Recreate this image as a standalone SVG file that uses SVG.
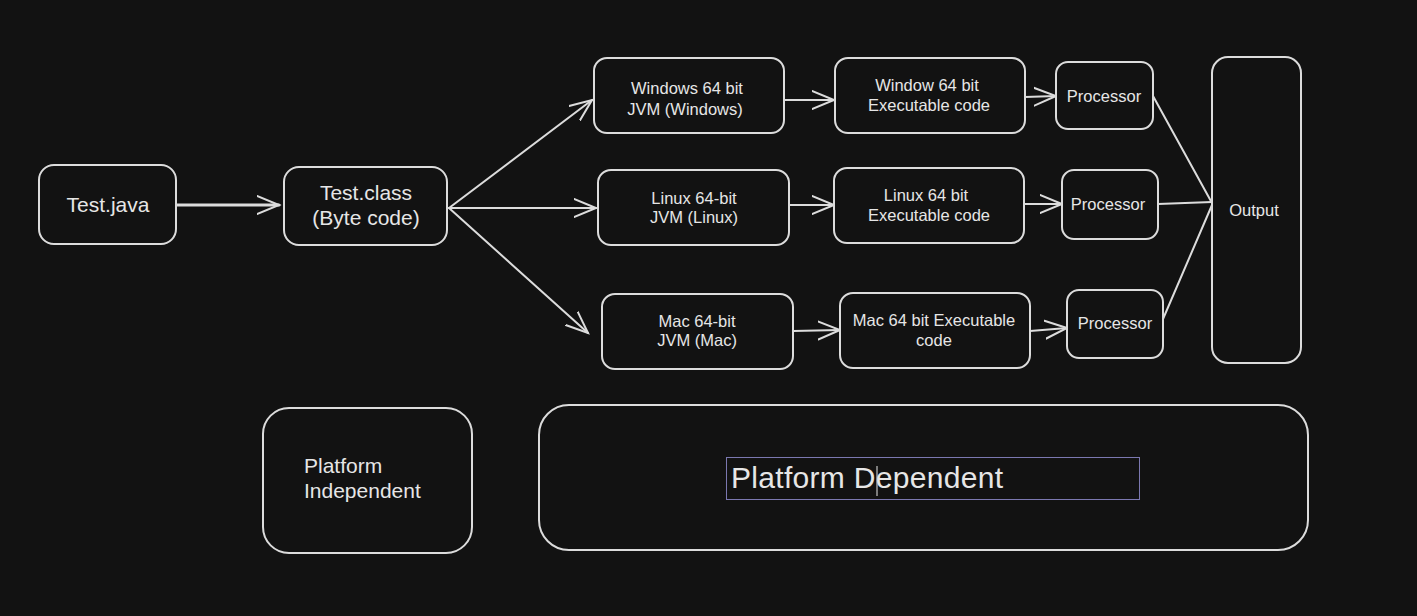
<svg xmlns="http://www.w3.org/2000/svg" width="1417" height="616" viewBox="0 0 1417 616">
<style>
.n{fill:#121212;stroke:#dcdcdc;stroke-width:2}
.t{fill:#e6e6e6;font-family:"Liberation Sans","DejaVu Sans",sans-serif;text-anchor:middle}
.s{font-size:16.5px}
.m{font-size:21px}
.c{fill:none;stroke:#dcdcdc;stroke-width:2;stroke-linecap:round}
</style>
<defs>
<marker id="a" markerUnits="userSpaceOnUse" markerWidth="30" markerHeight="30" refX="22" refY="10" orient="auto" viewBox="0 0 30 20">
<path d="M0,1 L22,10 L0,19" fill="none" stroke="#dcdcdc" stroke-width="2" stroke-linecap="round"/>
</marker>
</defs>
<rect width="1417" height="616" fill="#121212"/>
<g id="connectors">
<path class="c" d="M176,205 L279,205" marker-end="url(#a)" style="stroke-width:3"/>
<path class="c" d="M449,208 L592,100" marker-end="url(#a)"/>
<path class="c" d="M449,208 L596,208" marker-end="url(#a)"/>
<path class="c" d="M449,208 L588,333" marker-end="url(#a)"/>
<path class="c" d="M784,100 L834,100" marker-end="url(#a)"/>
<path class="c" d="M789,205 L834,205" marker-end="url(#a)"/>
<path class="c" d="M793,331 L840,330" marker-end="url(#a)"/>
<path class="c" d="M1025,97 L1056,96" marker-end="url(#a)"/>
<path class="c" d="M1024,204 L1062,204" marker-end="url(#a)"/>
<path class="c" d="M1030,331 L1067,328" marker-end="url(#a)"/>
<path class="c" d="M1153,96 L1212,203"/>
<path class="c" d="M1158,204 L1212,202"/>
<path class="c" d="M1160,326 L1212,205"/>
</g>
<g id="test-java"><rect class="n" x="39" y="165" width="137" height="79" rx="15"/><text class="t m" x="108" y="212">Test.java</text></g>
<g id="test-class"><rect class="n" x="284" y="167" width="163" height="78" rx="15"/><text class="t m" x="366" y="200">Test.class</text><text class="t m" x="366" y="225">(Byte code)</text></g>
<g id="win-jvm"><rect class="n" x="594" y="58" width="190" height="75" rx="13"/><text class="t s" x="687" y="94">Windows 64 bit</text><text class="t s" x="685" y="115">JVM (Windows)</text></g>
<g id="win-exec"><rect class="n" x="835" y="58" width="190" height="75" rx="13"/><text class="t s" x="927" y="91">Window 64 bit</text><text class="t s" x="929" y="111">Executable code</text></g>
<g id="proc1"><rect class="n" x="1056" y="62" width="97" height="67" rx="12"/><text class="t s" x="1104" y="102">Processor</text></g>
<g id="linux-jvm"><rect class="n" x="598" y="170" width="191" height="75" rx="13"/><text class="t s" x="694" y="204">Linux 64-bit</text><text class="t s" x="694" y="223">JVM (Linux)</text></g>
<g id="linux-exec"><rect class="n" x="834" y="168" width="190" height="75" rx="13"/><text class="t s" x="926" y="201">Linux 64 bit</text><text class="t s" x="929" y="221">Executable code</text></g>
<g id="proc2"><rect class="n" x="1062" y="170" width="96" height="69" rx="12"/><text class="t s" x="1108" y="210">Processor</text></g>
<g id="mac-jvm"><rect class="n" x="602" y="294" width="191" height="75" rx="13"/><text class="t s" x="697" y="327">Mac 64-bit</text><text class="t s" x="697" y="346">JVM (Mac)</text></g>
<g id="mac-exec"><rect class="n" x="840" y="293" width="190" height="75" rx="13"/><text class="t s" x="934" y="326">Mac 64 bit Executable</text><text class="t s" x="934" y="346">code</text></g>
<g id="proc3"><rect class="n" x="1067" y="290" width="96" height="68" rx="12"/><text class="t s" x="1115" y="329">Processor</text></g>
<g id="output"><rect class="n" x="1212" y="57" width="89" height="306" rx="16"/><text class="t s" x="1254" y="216">Output</text></g>
<g id="platform-independent"><rect class="n" x="263" y="408" width="209" height="145" rx="26"/><text class="t m" x="304" y="473" style="text-anchor:start">Platform</text><text class="t m" x="304" y="498" style="text-anchor:start">Independent</text></g>
<g id="platform-dependent"><rect class="n" x="539" y="405" width="769" height="145" rx="30"/>
<rect x="726.5" y="457.5" width="413" height="42" fill="none" stroke="#7b78b0" stroke-width="1"/>
<text class="t" x="731" y="488" style="text-anchor:start;font-size:30px" textLength="272" lengthAdjust="spacing">Platform Dependent</text>
<line x1="877" y1="466" x2="877" y2="496" stroke="#e6e6e6" stroke-width="1"/>
</g>
</svg>
